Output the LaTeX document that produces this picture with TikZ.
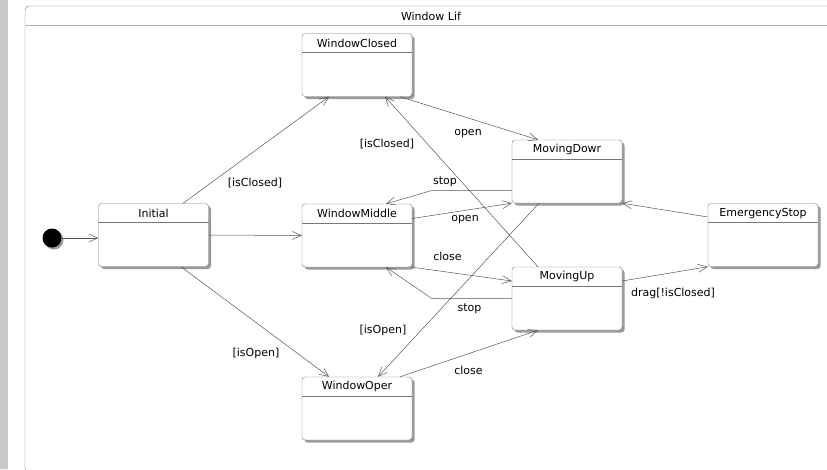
\documentclass[tikz,border=0pt]{standalone}
\usepackage{fontspec}
\setmainfont{DejaVu Sans}
\usetikzlibrary{arrows.meta, calc, shadows}

\definecolor{edgegray}{HTML}{555555}
\definecolor{boxgray}{HTML}{777777}
\definecolor{shadegray}{HTML}{9A9A9A}
\definecolor{bargray}{HTML}{C8C8C8}

\tikzset{
  state/.style={draw=boxgray, fill=white, rounded corners=3pt,
    minimum width=110pt, minimum height=63pt, inner sep=0pt,
    drop shadow={shadow xshift=2.5pt, shadow yshift=-2.5pt, fill=shadegray, opacity=1}},
  stname/.style={font=\fontsize{11}{13}\selectfont, inner sep=0pt},
  lbl/.style={font=\fontsize{11}{13}\selectfont, inner sep=0pt},
  trans/.style={draw=edgegray, line width=0.5pt, -{Straight Barb[length=9pt, width=8pt]}},
}

\begin{document}
\begin{tikzpicture}[x=1pt, y=-1pt]
  \clip (0,0) rectangle (827,469);
  % side bar and outer frame
  \fill[bargray] (0,0) rectangle (8,469);
  \draw[boxgray, rounded corners=4pt] (25,6) rectangle (850,472);
  \draw[black!30, line width=1pt] (25,25) -- (850,25);
  \node[lbl] (frametitle) at (431,16) {Window Lif};
  % states
  \foreach \n/\x/\y/\t in {wc/357/65/WindowClosed, ini/153.5/235/Initial,
      wm/357/235.5/WindowMiddle, wo/357/408.5/WindowOper, md/567/171.5/MovingDowr,
      es/763/235/EmergencyStop, mu/567/298.5/MovingUp}{
    \node[state] (\n) at (\x,\y) {};
    \draw[boxgray] ($(\n.north west)+(0,19)$) -- ($(\n.north east)+(0,19)$);
    \node[stname] (\n-name) at ($(\n.north)+(0,10)$) {\t};
  }
  % initial pseudo state
  \node[circle, fill=black, minimum size=19pt, inner sep=0pt,
    drop shadow={shadow xshift=2pt, shadow yshift=-2pt, fill=shadegray, opacity=1}]
    (start) at (52,238) {};
  % transitions
  \draw[trans] (start) -- (start -| ini.west);
  \draw[trans] ($(ini.north)+(29.5,0)$) -- ($(wc.south)+(-28,0)$);
  \draw[trans] (ini.east) -- (wm.west);
  \draw[trans] ($(ini.south)+(27.5,0)$) -- ($(wo.north)+(-28,0)$);
  \draw[trans] ($(wc.south)+(43,0)$) -- ($(md.north)+(-29,0)$);
  \draw[trans] ($(mu.north)+(-29,0)$) -- ($(wc.south)+(28,0)$);
  \draw[trans] ($(md.west)+(0,19)$) -- ++(-80,0) -- ($(wm.north)+(29,0)$);
  \draw[trans] ($(wm.east)+(0,-17)$) -- (md.south west);
  \draw[trans] ($(md.south)+(-28,0)$) -- ($(wo.north)+(21,0)$);
  \draw[trans] ($(es.west)+(0,-18)$) -- (md.south east);
  \draw[trans] (wm.south east) -- ($(mu.west)+(0,-17.5)$);
  \draw[trans] (mu.west) -- ++(-80,0) -- ($(wm.south)+(29,0)$);
  \draw[trans] ($(wo.north)+(43,0)$) -- ($(mu.south)+(-29,0)$);
  \draw[trans] ($(mu.east)+(0,-17.5)$) -- (es.south west);
  % guards and events
  \node[lbl] (g-ini-wc) at (255,183) {[isClosed]};
  \node[lbl] (g-ini-wo) at (256,353) {[isOpen]};
  \node[lbl] (e-wc-md) at (468,134) {open};
  \node[lbl] (g-mu-wc) at (387,144) {[isClosed]};
  \node[lbl] (e-md-wm) at (445,182) {stop};
  \node[lbl] (e-wm-md) at (465,219.5) {open};
  \node[lbl] (g-md-wo) at (383,330) {[isOpen]};
  \node[lbl] (e-wm-mu) at (447.5,256) {close};
  \node[lbl] (e-mu-wm) at (469.5,309) {stop};
  \node[lbl] (e-wo-mu) at (468.5,370) {close};
  \node[lbl] (e-mu-es) at (673,293) {drag[!isClosed]};
\end{tikzpicture}
\end{document}
